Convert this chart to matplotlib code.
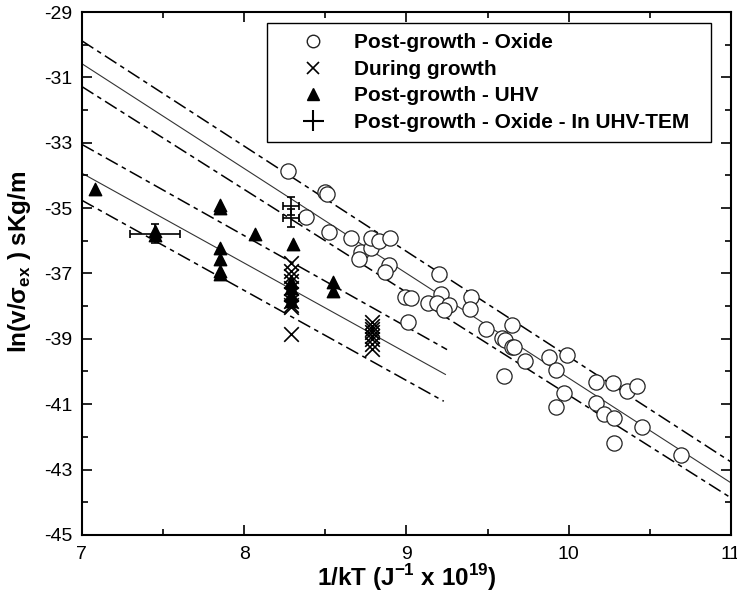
import numpy as np
import matplotlib
matplotlib.use('Agg')
import matplotlib.pyplot as plt
from matplotlib.lines import Line2D
from matplotlib.ticker import MultipleLocator

plt.rcParams['font.family'] = ['Liberation Sans', 'DejaVu Sans']
plt.rcParams['mathtext.fontset'] = 'custom'
plt.rcParams['mathtext.rm'] = 'Liberation Sans'
plt.rcParams['mathtext.bf'] = 'Liberation Sans:bold'
plt.rcParams['axes.unicode_minus'] = False

# Post-growth - Oxide (open circles)
oxide_x = [8.27, 8.50, 8.51, 8.38, 8.52, 8.66, 8.72, 8.71, 8.78, 8.78, 8.83, 8.90,
           8.89, 8.87, 9.20, 9.21, 8.99, 9.03, 9.13, 9.19, 9.26, 9.23, 9.40, 9.39,
           9.01, 9.65, 9.49, 9.59, 9.61, 9.65, 9.66, 9.73, 9.60, 9.88, 9.99, 9.92,
           10.17, 10.27, 10.36, 10.42, 9.97, 9.92, 10.17, 10.22, 10.28, 10.28, 10.45, 10.69]
oxide_y = [-33.87, -34.50, -34.56, -35.27, -35.72, -35.91, -36.33, -36.56, -36.23, -35.92, -36.00, -35.91,
           -36.75, -36.97, -37.02, -37.62, -37.71, -37.75, -37.89, -37.89, -37.97, -38.12, -37.73, -38.08,
           -38.49, -38.58, -38.70, -38.97, -39.03, -39.24, -39.26, -39.69, -40.15, -39.56, -39.51, -39.94,
           -40.33, -40.36, -40.60, -40.43, -40.66, -41.09, -40.95, -41.29, -41.41, -42.20, -41.70, -42.56]

# During growth (crosses)
during_x = [8.29, 8.29, 8.29, 8.29, 8.29, 8.29, 8.29, 8.29, 8.29, 8.29,
            8.79, 8.79, 8.79, 8.79, 8.79, 8.79, 8.79, 8.79]
during_y = [-36.69, -36.92, -37.07, -37.23, -37.43, -37.63, -37.84, -38.04, -37.95, -38.85,
            -38.50, -38.60, -38.70, -38.80, -38.90, -39.00, -39.15, -39.30]

# Post-growth - UHV (filled triangles)
uhv_x = [7.08, 7.45, 7.45, 7.85, 7.85, 7.85, 7.85, 7.85, 7.85, 8.07,
         8.30, 8.29, 8.29, 8.29, 8.29, 8.55, 8.55]
uhv_y = [-34.43, -35.70, -35.82, -34.91, -35.00, -36.21, -36.56, -36.92, -37.02, -35.80,
         -36.09, -37.25, -37.45, -37.65, -37.85, -37.27, -37.53]

# Post-growth - Oxide - In UHV-TEM (error bars)
tem_x = [7.45, 8.29, 8.29]
tem_y = [-35.78, -34.93, -35.30]
tem_xerr = [0.155, 0.05, 0.05]
tem_yerr = [0.28, 0.28, 0.28]

# fitted lines and bounds: (x0, x1, y0, y1)
oxide_fit = (7.0, 11.0, -30.58, -43.41)
oxide_up = (7.0, 11.0, -29.88, -42.77)
oxide_lo = (7.0, 11.0, -31.28, -43.87)
uhv_fit = (7.0, 9.24, -33.93, -40.09)
uhv_up = (7.0, 9.25, -33.05, -39.33)
uhv_lo = (7.0, 9.23, -34.76, -40.91)

fig = plt.figure(figsize=(7.37, 6.01), dpi=100)
ax = fig.add_axes([0.111, 0.110, 0.881, 0.870])

dash = (0, (9, 3, 3, 3))
for x0, x1, y0, y1 in [oxide_up, oxide_lo, uhv_up, uhv_lo]:
    ax.plot([x0, x1], [y0, y1], color='black', lw=1.1, linestyle=dash, zorder=1)
for x0, x1, y0, y1 in [oxide_fit, uhv_fit]:
    ax.plot([x0, x1], [y0, y1], color='#333333', lw=0.8, zorder=1)

ax.scatter(oxide_x, oxide_y, s=120, facecolors='white', edgecolors='#222222', linewidths=0.9, zorder=3)
ax.scatter(during_x, during_y, s=110, marker='x', color='black', linewidths=1.2, zorder=3)
ax.scatter(uhv_x, uhv_y, s=80, marker='^', color='black', zorder=4)
ax.errorbar(tem_x, tem_y, xerr=tem_xerr, yerr=tem_yerr, fmt='none', ecolor='black',
            elinewidth=1.2, capsize=3, capthick=1.2, zorder=5)

ax.set_xlim(7, 11)
ax.set_ylim(-45, -29)
ax.xaxis.set_major_locator(MultipleLocator(1))
ax.xaxis.set_minor_locator(MultipleLocator(0.5))
ax.yaxis.set_major_locator(MultipleLocator(2))
ax.yaxis.set_minor_locator(MultipleLocator(1))
ax.set_yticks(np.arange(-45, -28, 2))
ax.tick_params(which='both', direction='in', top=True, right=True, labelsize=14, width=1.2)
ax.tick_params(which='major', length=7)
ax.tick_params(which='minor', length=4)
ax.tick_params(axis='x', which='major', pad=8)
ax.tick_params(axis='y', which='major', pad=7)
for s in ax.spines.values():
    s.set_linewidth(1.5)

ax.set_xlabel(r'1/kT (J$^{\mathbf{-1}}$ x 10$^{\mathbf{19}}$)', fontsize=17.5, fontweight='bold', labelpad=-1)
ax.set_ylabel(r'ln(v/σ$_{\mathbf{ex}}$ ) sKg/m', fontsize=17.5, fontweight='bold')
ax.yaxis.set_label_coords(-0.075, 0.522)

handles = [
    Line2D([], [], marker='o', linestyle='none', markerfacecolor='white', markeredgecolor='#222222', markersize=9),
    Line2D([], [], marker='x', linestyle='none', color='black', markersize=9, markeredgewidth=1.2),
    Line2D([], [], marker='^', linestyle='none', color='black', markersize=8),
    ax.errorbar([], [], xerr=[], yerr=[], fmt='none', ecolor='black', capsize=3),
]
labels = ['Post-growth - Oxide', 'During growth', 'Post-growth - UHV', 'Post-growth - Oxide - In UHV-TEM']
leg = ax.legend(handles, labels, loc='upper left', bbox_to_anchor=(0.285, 0.0, 0.684, 0.979),
                mode='expand', borderaxespad=0,
                fancybox=False, edgecolor='black', framealpha=1, prop={'weight': 'bold', 'size': 15},
                labelspacing=0.36, handletextpad=0.24, borderpad=0.5, handlelength=3.46)
leg.get_frame().set_linewidth(1.0)

fig.savefig('out.png', dpi=100)
